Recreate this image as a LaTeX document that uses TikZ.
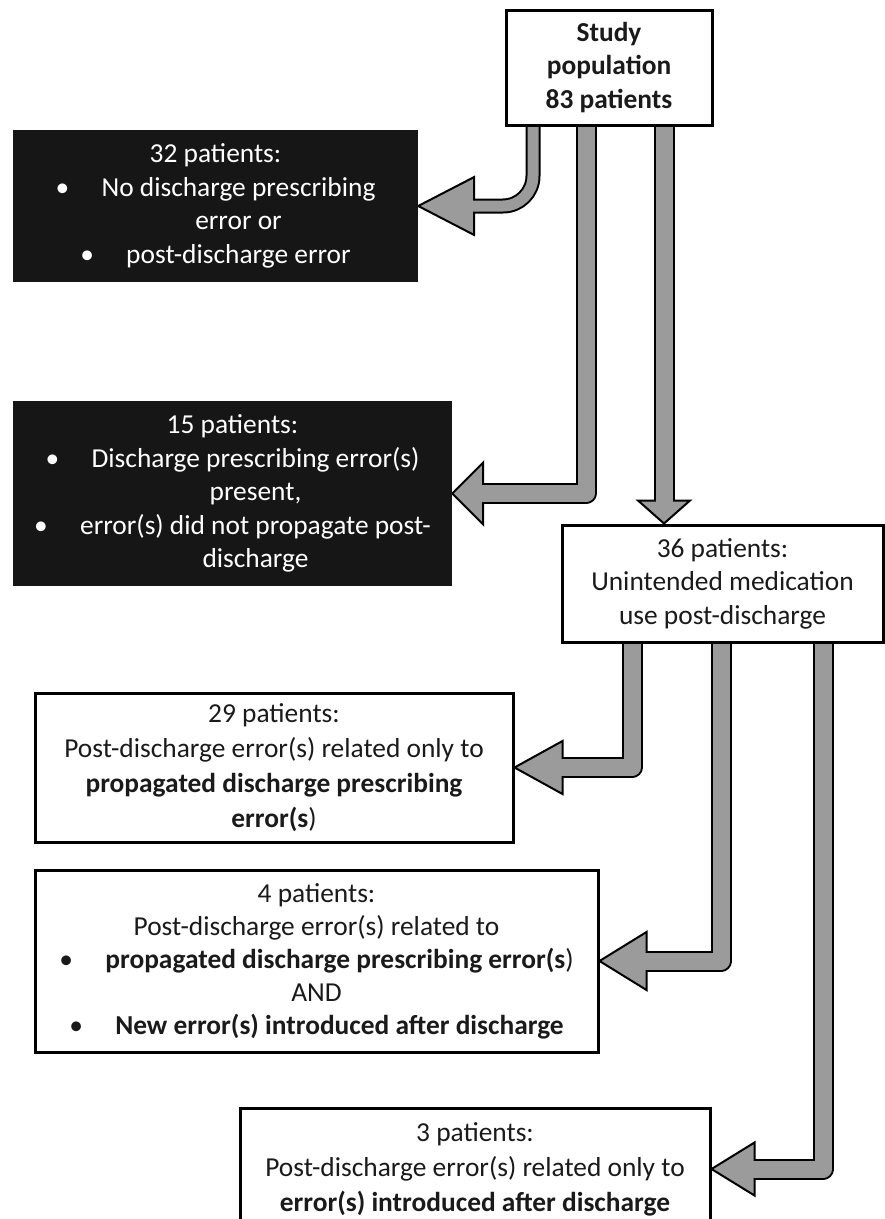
\documentclass[tikz,border=0pt]{standalone}
\usepackage{fontspec}
\setmainfont{Carlito}
\usetikzlibrary{calc}
\pgfdeclarelayer{bg}
\pgfsetlayers{bg,main}
\definecolor{arrgray}{HTML}{9B9B9B}
\definecolor{boxblack}{HTML}{161616}
\definecolor{txt}{HTML}{1A1A1A}
\newcommand\bul{\makebox[46pt][l]{\textbullet}}
\newcommand\cont{\hspace*{46pt}}
\begin{document}
\begin{tikzpicture}[x=1pt,y=-1pt,
  every node/.style={font=\fontsize{27.4}{33.5}\selectfont, align=center, inner sep=0pt},
  wbox/.style={draw=black, line width=3pt, fill=white, text=txt},
  kbox/.style={fill=boxblack, text=white},
  shaftedge/.style={draw=black, line width=#1+4pt, line join=round},
  shaftfill/.style={draw=arrgray, line width=#1, line join=round},
  headshape/.style={fill=arrgray, draw=black, line width=2pt, line join=miter}]
\useasboundingbox (0,0) rectangle (885,1219);

\node[wbox, minimum width=206, minimum height=115] (study) at (609,67.5)
  {\textbf{Study}\\\textbf{population}\\\textbf{83 patients}};

\node[kbox, minimum width=405, minimum height=152] (b32) at (215.5,206)
  {32 patients:\\\bul No discharge prescribing\\\cont error or\\\bul post-discharge error};

\node[kbox, minimum width=439, minimum height=185] (b15) at (232.5,493.5)
  {15 patients:\\\bul Discharge prescribing error(s)\\\cont present,\\\bul error(s) did not propagate post-\\\cont discharge};

\node[wbox, minimum width=321, minimum height=117] (b36) at (722.5,583.5)
  {36 patients:\\Unintended medication\\use post-discharge};

\node[wbox, minimum width=478, minimum height=149, font=\fontsize{27.4}{35}\selectfont] (b29) at (274,767.5)
  {29 patients:\\Post-discharge error(s) related only to\\\textbf{propagated discharge prescribing}\\\textbf{error(s})};

\node[wbox, minimum width=563, minimum height=182, font=\fontsize{27.4}{33}\selectfont] (b4) at (316.5,961)
  {4 patients:\\Post-discharge error(s) related to\\\bul\textbf{propagated discharge prescribing error(s})\\AND\\\bul\textbf{New error(s) introduced after discharge}};

\node[wbox, minimum width=470, minimum height=122, font=\fontsize{27.4}{35}\selectfont] (b3) at (475,1169)
  {3 patients:\\Post-discharge error(s) related only to\\\textbf{error(s) introduced after discharge}};

\begin{pgfonlayer}{bg}
% arrow 1: study -> b32
\coordinate (a1s) at ($(study.south)+(-76,0)$);
\coordinate (a1c) at (a1s |- b32.east);
\coordinate (a1b) at ($(b32.east)+(56,0)$);
\draw[shaftedge=11pt, rounded corners=30pt] (a1s) -- (a1c) -- (a1b);
\filldraw[headshape] ($(a1b)+(0,-29)$) -- (b32.east) -- ($(a1b)+(0,29)$) -- cycle;
\draw[shaftfill=11pt, rounded corners=30pt] (a1s) -- (a1c) -- ($(a1b)+(-3,0)$);
% arrow 2: study -> b15
\coordinate (a2s) at ($(study.south)+(-23,0)$);
\coordinate (a2c) at (a2s |- b15.east);
\coordinate (a2b) at ($(b15.east)+(31,0)$);
\draw[shaftedge=17pt] (a2s) -- (a2c) -- (a2b);
\filldraw[headshape] ($(a2b)+(0,-31)$) -- (b15.east) -- ($(a2b)+(0,31)$) -- cycle;
\draw[shaftfill=17pt] (a2s) -- (a2c) -- ($(a2b)+(-3,0)$);
% arrow 3: study -> b36
\coordinate (a3s) at ($(study.south)+(55,0)$);
\coordinate (a3t) at ($(b36.north)+(-58.5,0)$);
\coordinate (a3b) at ($(a3t)+(0,-23)$);
\draw[shaftedge=17pt] (a3s) -- (a3b);
\filldraw[headshape] ($(a3b)+(-26,0)$) -- (a3t) -- ($(a3b)+(26,0)$) -- cycle;
\draw[shaftfill=17pt] (a3s) -- ($(a3b)+(0,3)$);
% arrow 4: b36 -> b29
\coordinate (a4s) at ($(b36.south)+(-90.5,0)$);
\coordinate (a4c) at (a4s |- b29.east);
\coordinate (a4b) at ($(b29.east)+(48,0)$);
\draw[shaftedge=17pt] (a4s) -- (a4c) -- (a4b);
\filldraw[headshape] ($(a4b)+(0,-26.5)$) -- (b29.east) -- ($(a4b)+(0,26.5)$) -- cycle;
\draw[shaftfill=17pt] (a4s) -- (a4c) -- ($(a4b)+(-3,0)$);
% arrow 5: b36 -> b4
\coordinate (a5s) at ($(b36.south)+(-1.5,0)$);
\coordinate (a5c) at (a5s |- b4.east);
\coordinate (a5b) at ($(b4.east)+(47,0)$);
\draw[shaftedge=17pt] (a5s) -- (a5c) -- (a5b);
\filldraw[headshape] ($(a5b)+(0,-29)$) -- (b4.east) -- ($(a5b)+(0,29)$) -- cycle;
\draw[shaftfill=17pt] (a5s) -- (a5c) -- ($(a5b)+(-3,0)$);
% arrow 6: b36 -> b3
\coordinate (a6s) at ($(b36.south)+(100.5,0)$);
\coordinate (a6c) at (a6s |- b3.east);
\coordinate (a6b) at ($(b3.east)+(43,0)$);
\draw[shaftedge=17pt] (a6s) -- (a6c) -- (a6b);
\filldraw[headshape] ($(a6b)+(0,-26.5)$) -- (b3.east) -- ($(a6b)+(0,26.5)$) -- cycle;
\draw[shaftfill=17pt] (a6s) -- (a6c) -- ($(a6b)+(-3,0)$);
\end{pgfonlayer}
\end{tikzpicture}
\end{document}
